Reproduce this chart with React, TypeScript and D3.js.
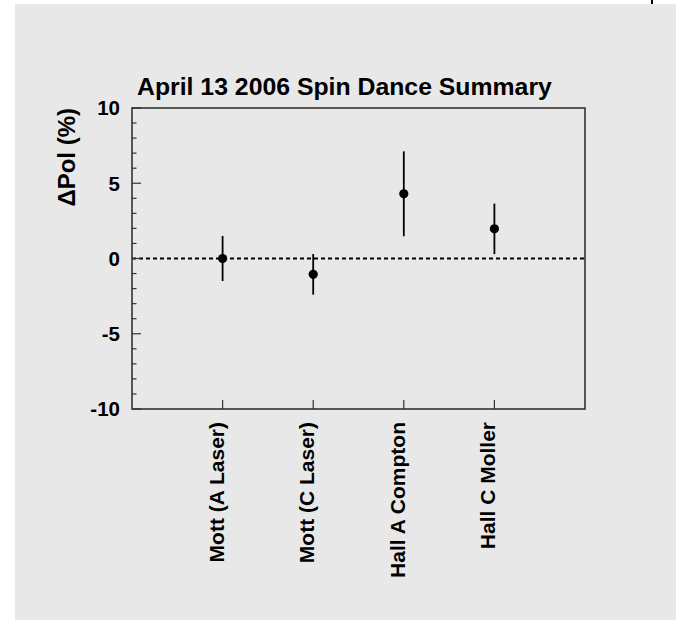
import React from "react";
import * as d3 from "d3";

const categories = ["Mott (A Laser)", "Mott (C Laser)", "Hall A Compton", "Hall C Moller"];
const values = [0.0, -1.05, 4.3, 1.97];
const errors = [1.5, 1.35, 2.82, 1.68];
const yMajorTicks = [-10, -5, 0, 5, 10];
const yMinorTicks = d3.range(-10, 11, 1);
const titleText = "April 13 2006 Spin Dance Summary";
const yLabel = "ΔPol (%)";

const W = 676;
const H = 620;
const frame = { left: 132, right: 585, top: 108, bottom: 409 };
const FONT = "'Liberation Sans', Arial, Helvetica, sans-serif";
const INK = "#000";
const FRAME = "#333";

export default function App() {
  const x = d3.scaleLinear().domain([0, categories.length + 1]).range([frame.left, frame.right]);
  const y = d3.scaleLinear().domain([-10, 10]).range([frame.bottom, frame.top]);

  return (
    <svg
      width={W}
      height={H}
      style={{ position: "absolute", left: 0, top: 0, display: "block" }}
    >
      <rect x={0} y={0} width={W} height={H} fill="#fff" />
      <rect x={15} y={4} width={W - 15} height={H - 4} fill="#e8e8e8" />
      <line x1={652} x2={652} y1={0} y2={4} stroke="#000" strokeWidth={2} />

      {/* title */}
      <text
        x={137}
        y={95}
        fontFamily={FONT}
        fontWeight="bold"
        fontSize={24.8}
        fill={INK}
      >
        {titleText}
      </text>

      {/* zero reference line */}
      <line
        x1={frame.left}
        x2={frame.right}
        y1={y(0)}
        y2={y(0)}
        stroke={INK}
        strokeWidth={2}
        strokeDasharray="4 3"
      />

      {/* y minor & major ticks */}
      {yMinorTicks.map((t) => {
        const major = yMajorTicks.includes(t);
        return (
          <line
            key={"yt" + t}
            x1={frame.left}
            x2={frame.left + (major ? 9 : 4.5)}
            y1={y(t)}
            y2={y(t)}
            stroke={FRAME}
            strokeWidth={1.2}
          />
        );
      })}
      {yMajorTicks.map((t) => (
        <text
          key={"yl" + t}
          x={120}
          y={y(t)}
          dy="0.36em"
          textAnchor="end"
          fontFamily={FONT}
          fontWeight="bold"
          fontSize={20.5}
          fill={INK}
        >
          {t}
        </text>
      ))}

      {/* category ticks and labels */}
      {categories.map((c, i) => (
        <g key={"c" + i}>
          <line
            x1={x(i + 1)}
            x2={x(i + 1)}
            y1={frame.bottom}
            y2={frame.bottom - 9}
            stroke={FRAME}
            strokeWidth={1.2}
          />
          <text
            transform={`translate(${x(i + 1) + 1},${frame.bottom + 13}) rotate(-90)`}
            textAnchor="end"
            fontFamily={FONT}
            fontWeight="bold"
            fontSize={21}
            fill={INK}
          >
            {c}
          </text>
        </g>
      ))}

      {/* y axis title */}
      <text
        transform={`translate(75,${frame.top}) rotate(-90)`}
        textAnchor="end"
        fontFamily={FONT}
        fontWeight="bold"
        fontSize={24}
        fill={INK}
      >
        {yLabel}
      </text>

      {/* data points with error bars */}
      {values.map((v, i) => (
        <g key={"p" + i}>
          <line
            x1={x(i + 1)}
            x2={x(i + 1)}
            y1={y(v + errors[i])}
            y2={y(v - errors[i])}
            stroke={INK}
            strokeWidth={1.8}
          />
          <circle cx={x(i + 1)} cy={y(v)} r={4.6} fill={INK} />
        </g>
      ))}

      {/* frame */}
      <rect
        x={frame.left}
        y={frame.top}
        width={frame.right - frame.left}
        height={frame.bottom - frame.top}
        fill="none"
        stroke={FRAME}
        strokeWidth={1.6}
      />
    </svg>
  );
}
